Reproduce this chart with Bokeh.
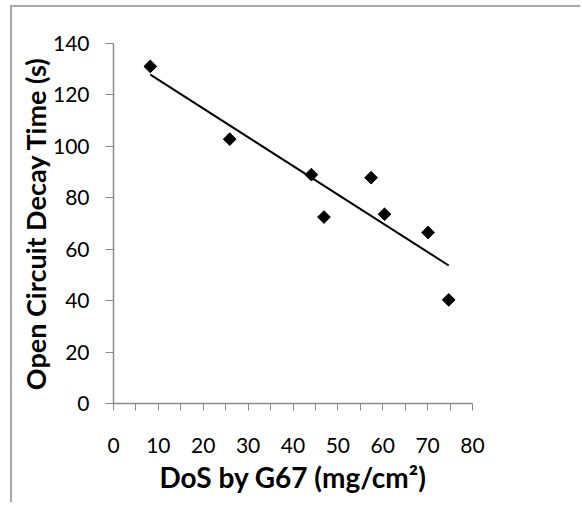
import numpy as np
from bokeh.plotting import figure
from bokeh.models import Range1d, FixedTicker
from bokeh.embed import file_html
from bokeh.resources import INLINE

# Data
dos = [8.2, 25.9, 44.1, 46.9, 57.4, 60.4, 70.1, 74.7]
decay_time = [131.1, 102.8, 89.0, 72.5, 87.8, 73.6, 66.5, 40.3]

x_ticks = [0, 10, 20, 30, 40, 50, 60, 70, 80]
x_minor = [5, 15, 25, 35, 45, 55, 65, 75]
y_ticks = [0, 20, 40, 60, 80, 100, 120, 140]

x_title = "DoS by G67 (mg/cm²)"
y_title = "Open Circuit Decay Time (s)"

# Linear trendline fitted from the data
slope, intercept = np.polyfit(dos, decay_time, 1)
trend_x = [min(dos), max(dos)]
trend_y = [slope * v + intercept for v in trend_x]

p = figure(width=570, height=497, output_backend="svg", toolbar_location=None,
           x_range=Range1d(0, 80), y_range=Range1d(0, 140))
p.min_border_left = 101
p.min_border_right = 110
p.min_border_top = 36
p.min_border_bottom = 101
p.outline_line_color = None
p.xgrid.grid_line_color = None
p.ygrid.grid_line_color = None
p.background_fill_color = "white"
p.border_fill_color = "white"
p.styles = {"border-left": "2px solid #a6a6a6", "border-top": "2px solid #a6a6a6",
            "border-right": "none", "border-bottom": "none",
            "margin-left": "10px", "margin-top": "5px"}

p.line(trend_x, trend_y, line_color="black", line_width=2)
p.scatter(dos, decay_time, marker="square", size=9, angle=np.pi / 4,
          fill_color="black", line_color="black")

ax_col = "#8a8a8a"
xa = p.xaxis[0]
xa.ticker = FixedTicker(ticks=x_ticks, minor_ticks=x_minor)
xa.axis_line_color = ax_col
xa.axis_line_width = 1.5
xa.major_tick_line_color = ax_col
xa.minor_tick_line_color = ax_col
xa.major_tick_in = 0
xa.major_tick_out = 7
xa.minor_tick_in = 0
xa.minor_tick_out = 7
xa.major_label_standoff = 27
xa.major_label_text_font = "Lato"
xa.major_label_text_font_size = "21px"
xa.major_label_text_color = "black"
xa.axis_label = x_title
xa.axis_label_text_font = "Lato"
xa.axis_label_text_font_style = "bold"
xa.axis_label_text_font_size = "28px"
xa.axis_label_text_color = "black"
xa.axis_label_standoff = 4

ya = p.yaxis[0]
ya.ticker = FixedTicker(ticks=y_ticks)
ya.axis_line_color = ax_col
ya.axis_line_width = 1.5
ya.major_tick_line_color = ax_col
ya.minor_tick_line_color = None
ya.major_tick_in = 0
ya.major_tick_out = 8
ya.major_label_standoff = 16
ya.major_label_text_font = "Lato"
ya.major_label_text_font_size = "21px"
ya.major_label_text_color = "black"
ya.axis_label = y_title
ya.axis_label_text_font = "Lato"
ya.axis_label_text_font_style = "bold"
ya.axis_label_text_font_size = "27px"
ya.axis_label_text_color = "black"
ya.axis_label_standoff = -2

open("out.html", "w").write(file_html(p, INLINE))
